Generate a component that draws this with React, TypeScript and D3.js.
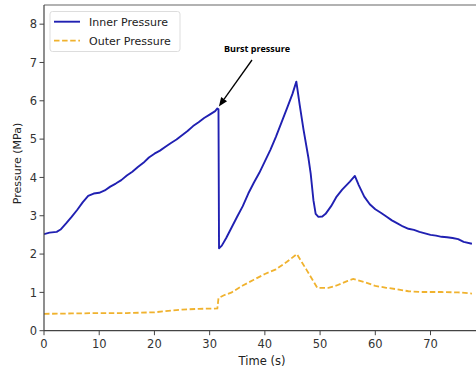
import React from "react";
import * as d3 from "d3";

const innerT = [0, 1, 2.3, 3, 4, 5, 6, 7, 8, 9, 10, 11, 12, 13, 14, 15, 16, 17, 18, 19, 20, 21, 22, 23, 24, 25, 26, 27, 28, 29, 30, 31, 31.4, 31.6, 31.7, 32.2, 33, 34, 35, 36, 37, 38, 39, 40, 41, 42, 43, 44, 45, 45.7, 46.3, 47, 47.9, 48.3, 48.8, 49.2, 49.7, 50.4, 51, 52, 53, 54, 55.4, 56.3, 57, 58, 59, 60, 61, 62, 63, 64, 65, 66, 67, 68, 69, 70, 71, 72, 73, 74, 75, 76, 77.5];
const innerV = [2.52, 2.56, 2.58, 2.64, 2.8, 2.97, 3.15, 3.35, 3.52, 3.58, 3.6, 3.66, 3.76, 3.84, 3.93, 4.05, 4.15, 4.27, 4.38, 4.52, 4.62, 4.7, 4.8, 4.9, 4.99, 5.1, 5.21, 5.34, 5.44, 5.55, 5.64, 5.73, 5.8, 5.78, 2.15, 2.22, 2.42, 2.7, 2.98, 3.25, 3.58, 3.86, 4.12, 4.42, 4.72, 5.06, 5.43, 5.8, 6.18, 6.5, 5.9, 5.25, 4.5, 4.1, 3.4, 3.05, 2.97, 2.98, 3.05, 3.25, 3.5, 3.68, 3.89, 4.04, 3.8, 3.5, 3.3, 3.17, 3.08, 2.98, 2.88, 2.8, 2.72, 2.66, 2.63, 2.58, 2.54, 2.5, 2.48, 2.45, 2.44, 2.42, 2.39, 2.32, 2.27];

const outerT = [0, 5, 10, 15, 20, 22, 25, 28, 31.4, 31.6, 32.5, 34, 36, 38, 40, 42, 44, 45.8, 47.5, 49.5, 51.5, 53, 55, 56, 58, 60, 62, 64, 66, 68, 72, 75, 77.5];
const outerV = [0.44, 0.45, 0.46, 0.46, 0.48, 0.51, 0.55, 0.57, 0.58, 0.85, 0.92, 1.0, 1.18, 1.33, 1.48, 1.6, 1.8, 2.0, 1.6, 1.12, 1.12, 1.18, 1.3, 1.35, 1.27, 1.17, 1.12, 1.08, 1.03, 1.01, 1.01, 1.0, 0.97];

const xTicks = [0, 10, 20, 30, 40, 50, 60, 70];
const yTicks = [0, 1, 2, 3, 4, 5, 6, 7, 8];
const seriesNames = ["Inner Pressure", "Outer Pressure"];
const annotationText = "Burst pressure";
const burstPoint = [31.4, 5.8];

const W = 476, H = 372;
const left = 44, right = 478, top = 5, bottom = 330.7;
const font = "DejaVu Sans, sans-serif";
const fs = 11;

export default function App() {
  const x = d3.scaleLinear().domain([0, 78.6]).range([left, right]);
  const y = d3.scaleLinear().domain([0, 8.5]).range([bottom, top]);
  const line = d3.line<[number, number]>().x(d => x(d[0])).y(d => y(d[1]));
  const inner = innerT.map((t, i) => [t, innerV[i]] as [number, number]);
  const outer = outerT.map((t, i) => [t, outerV[i]] as [number, number]);
  const blue = "#2020b2";
  const orange = "#f0b22e";
  const tx = x(burstPoint[0]) + 1.5, ty = y(burstPoint[1]) - 2;
  const sx = 252, sy = 60;
  const ang = Math.atan2(ty - sy, tx - sx);
  const ah = 9, aw = 3.6;
  const bx = tx - ah * Math.cos(ang), by = ty - ah * Math.sin(ang);
  const head = `M${tx},${ty}L${bx + aw * Math.sin(ang)},${by - aw * Math.cos(ang)}L${bx - aw * Math.sin(ang)},${by + aw * Math.cos(ang)}Z`;
  return (
    <svg width={W} height={H} style={{ position: "absolute", left: 0, top: 0, background: "#fff" }}>
      <rect x={0} y={0} width={W} height={H} fill="#fff" />
      <defs>
        <clipPath id="clip"><rect x={left} y={top} width={right - left} height={bottom - top} /></clipPath>
      </defs>
      <g clipPath="url(#clip)">
        <path d={line(outer)!} fill="none" stroke={orange} strokeWidth={1.8} strokeDasharray="5.5,2.6" />
        <path d={line(inner)!} fill="none" stroke={blue} strokeWidth={1.9} strokeLinejoin="round" />
      </g>
      <line x1={left} y1={top} x2={right} y2={top} stroke="#666" strokeWidth={1.2} />
      <line x1={left} y1={top} x2={left} y2={bottom} stroke="#444" strokeWidth={1.2} />
      <line x1={left} y1={bottom} x2={right} y2={bottom} stroke="#444" strokeWidth={1.2} />
      {yTicks.map(t => (
        <g key={"y" + t}>
          <line x1={left - 4.5} x2={left} y1={y(t)} y2={y(t)} stroke="#444" strokeWidth={1} />
          <text x={left - 7} y={y(t)} dy="0.36em" textAnchor="end" fontFamily={font} fontSize={fs + 0.5} fill="#333">{t}</text>
        </g>
      ))}
      {xTicks.map(t => (
        <g key={"x" + t}>
          <line x1={x(t)} x2={x(t)} y1={bottom} y2={bottom + 4.5} stroke="#444" strokeWidth={1} />
          <text x={x(t)} y={bottom + 17.5} textAnchor="middle" fontFamily={font} fontSize={fs + 0.5} fill="#333">{t}</text>
        </g>
      ))}
      <text x={262} y={365} textAnchor="middle" fontFamily={font} fontSize={fs + 0.5} fill="#222">Time (s)</text>
      <text transform={`translate(20.5,163.5) rotate(-90)`} textAnchor="middle" fontFamily={font} fontSize={fs} fill="#222">Pressure (MPa)</text>
      <rect x={50} y={11.5} width={130} height={40} rx={2.5} fill="#fff" stroke="#ddd" strokeWidth={1} />
      <line x1={54} x2={80} y1={21.7} y2={21.7} stroke={blue} strokeWidth={1.9} />
      <line x1={54} x2={80} y1={40.7} y2={40.7} stroke={orange} strokeWidth={1.8} strokeDasharray="5.5,2.6" />
      <text x={89} y={21.7} dy="0.36em" fontFamily={font} fontSize={fs} fill="#222">{seriesNames[0]}</text>
      <text x={89} y={40.7} dy="0.36em" fontFamily={font} fontSize={fs} fill="#222">{seriesNames[1]}</text>
      <text x={257} y={52} textAnchor="middle" fontFamily="Open Sans, sans-serif" fontWeight="bold" fontSize={9} fill="#000">{annotationText}</text>
      <line x1={sx} y1={sy} x2={bx} y2={by} stroke="#000" strokeWidth={1.3} />
      <path d={head} fill="#000" />
    </svg>
  );
}
